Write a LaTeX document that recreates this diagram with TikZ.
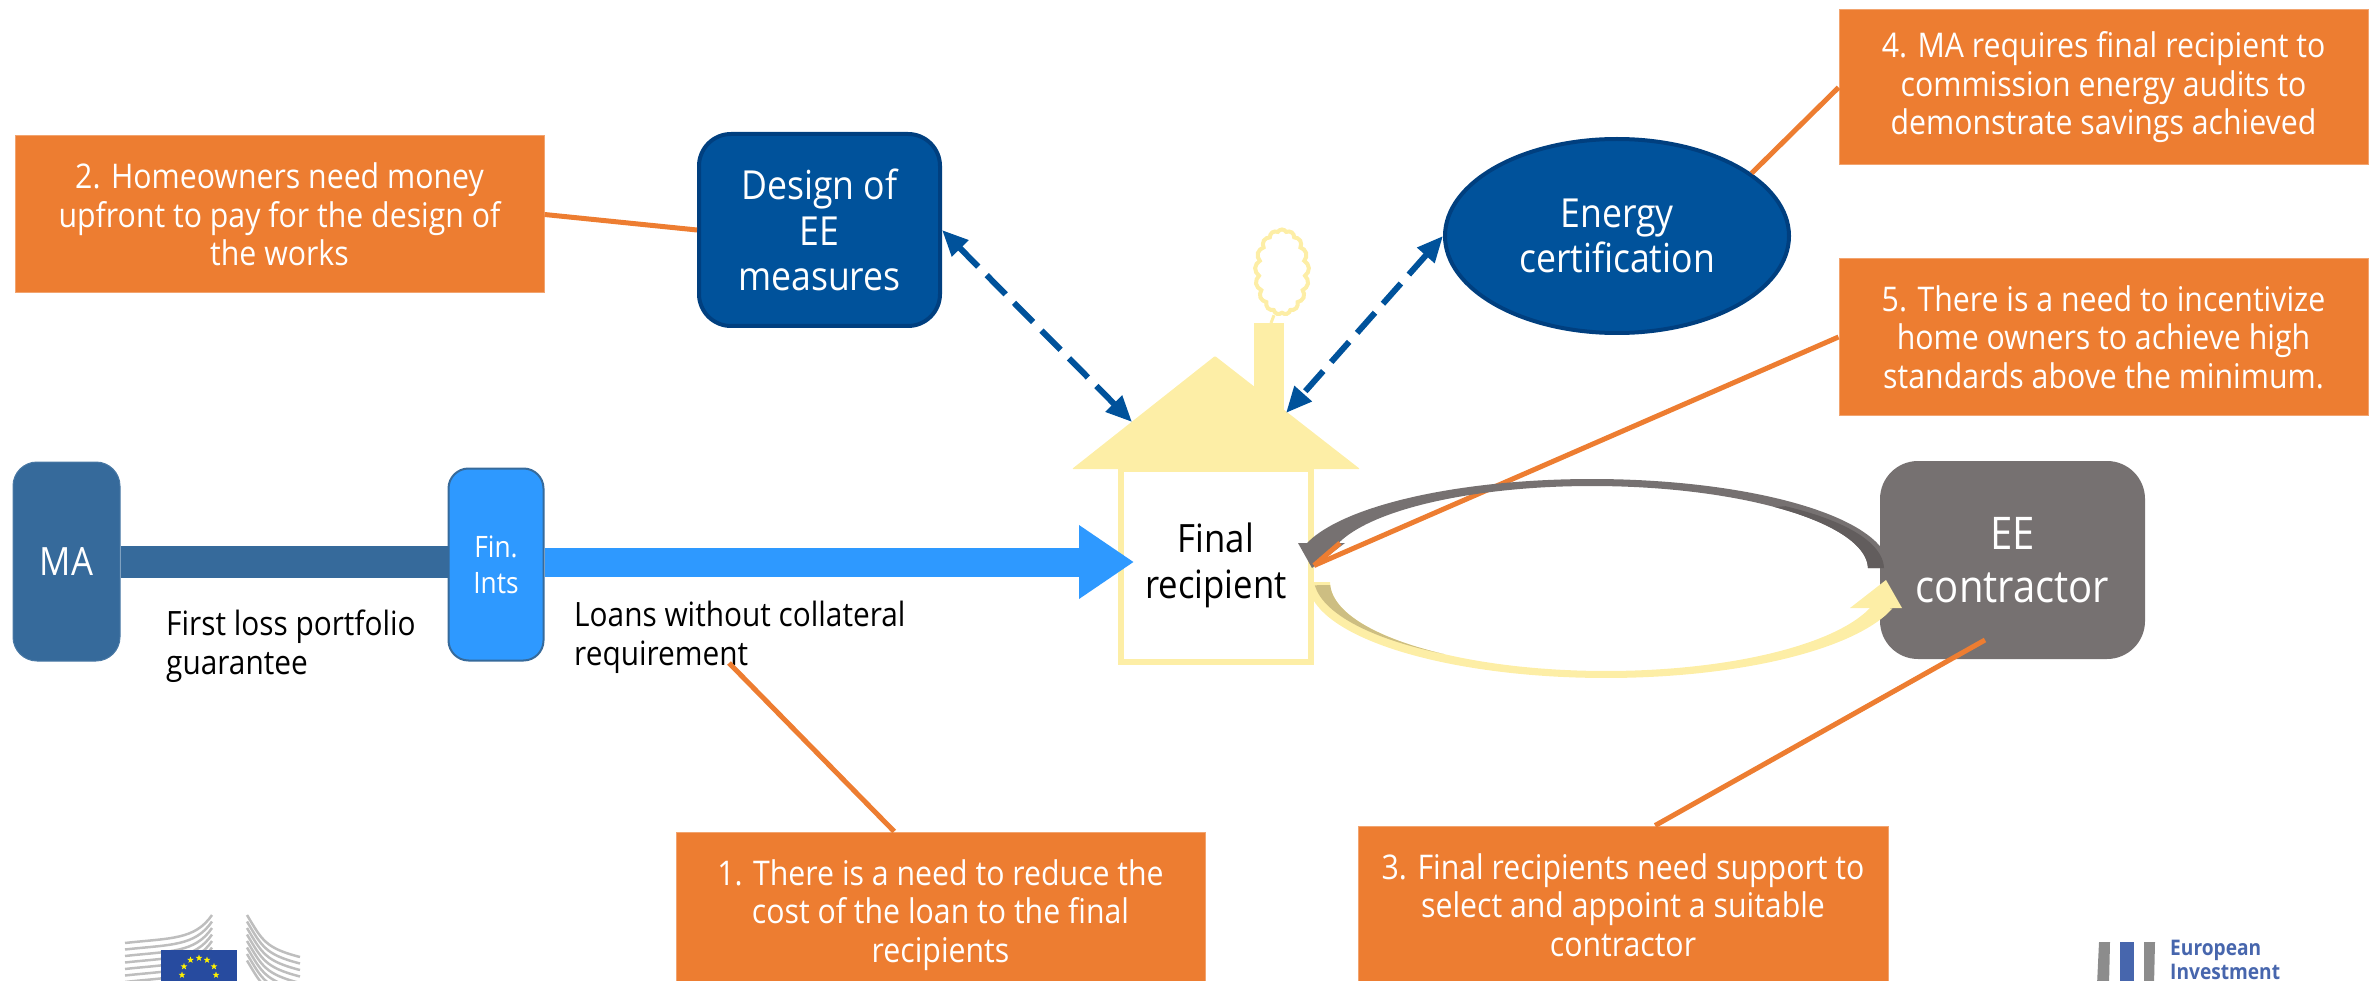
\documentclass[tikz,border=0pt]{standalone}
\usepackage{fontspec}
\setmainfont[FakeStretch=0.89]{Open Sans}
\usetikzlibrary{shapes.geometric,shapes.symbols,arrows.meta,calc}
\definecolor{orangebox}{HTML}{ED7D31}
\definecolor{darkblue}{HTML}{00529B}
\definecolor{darkedge}{HTML}{003F7F}
\definecolor{maBlue}{HTML}{366A9B}
\definecolor{finBlue}{HTML}{2E99FF}
\definecolor{eeGray}{HTML}{767171}
\definecolor{eeDark}{HTML}{625D5D}
\definecolor{houseY}{HTML}{FDEEA6}
\definecolor{tanY}{HTML}{CDBE82}
\definecolor{euBlue}{HTML}{274B9F}
\definecolor{logoGray}{HTML}{BEBEBE}
\tikzset{
  x=1pt,y=-1pt,
  callout/.style={fill=orangebox,draw=orangebox!70!white,line width=1pt,text=white,align=center,inner sep=0pt,
    minimum width=529pt,font=\fontsize{34}{38.5}\selectfont},
  leader/.style={draw=orangebox,line width=5pt},
  bluebox/.style={fill=darkblue,draw=darkedge,line width=4pt,text=white,align=center,inner sep=0pt,
    font=\fontsize{40}{45.5}\selectfont},
  dashlink/.style={draw=darkblue,line width=6pt,dash pattern=on 27pt off 12pt,
    {Triangle[length=26pt,width=22pt]}-{Triangle[length=26pt,width=22pt]}},
  caption/.style={align=left,anchor=north west,inner sep=0pt,font=\fontsize{33.5}{38.5}\selectfont},
  eustar/.style={star,star points=5,star point ratio=2.4,fill=yellow,draw=none,inner sep=0pt,minimum size=7pt},
}
\begin{document}
\begin{tikzpicture}
\useasboundingbox (0,0) rectangle (2377,981);
% callouts
\node[callout,minimum height=157pt] (box2) at (279.5,214.5) {2. Homeowners need money\\upfront to pay for the design of\\the works};
\node[callout,minimum height=155pt] (box4) at (2103.5,87.5) {4. MA requires final recipient to\\commission energy audits to\\demonstrate savings achieved};
\node[callout,minimum height=156pt] (box5) at (2103.5,337) {5. There is a need to incentivize\\home owners to achieve high\\standards above the minimum.};
\node[callout,minimum height=166pt] (box1) at (940.5,915) {1. There is a need to reduce the\\cost of the loan to the final\\recipients};
\node[callout,minimum height=158pt,minimum width=530pt] (box3) at (1623,905) {3. Final recipients need support to\\select and appoint a suitable\\contractor};
% blue nodes
\node[bluebox,rounded corners=32pt,minimum width=241pt,minimum height=192pt] (design) at (819.5,230) {Design of\\EE\\measures};
\node[bluebox,ellipse,minimum width=344pt,minimum height=194pt] (energy) at (1617,236) {Energy\\certification};
% house
\fill[houseY] (1254,323) rectangle (1284,470);
\fill[houseY,rounded corners=1pt] (1215,356) -- (1360,469) -- (1072,469) -- cycle;
\node[draw=houseY,line width=6pt,inner sep=0pt,minimum width=190pt,minimum height=193pt,align=center,
  font=\fontsize{39}{46}\selectfont] (final) at (1216,565.5) {Final\\recipient};
\node[cloud,cloud puffs=17,cloud puff arc=120,aspect=0.62,draw=houseY,line width=4pt,minimum width=54pt,minimum height=85pt,inner sep=0pt] (smoke) at (1282,272) {};
\coordinate (chimney) at (1271,323);
\draw[houseY,line width=3pt] (smoke.south) ++(-8,0) -- (chimney);
\coordinate (roofL) at (1132,422);
\coordinate (roofR) at (1286,413);
% left chain
\node[fill=maBlue,draw=maBlue!90!white,line width=1pt,rounded corners=24pt,minimum width=107pt,minimum height=199pt,inner sep=0pt,text=white,font=\fontsize{39}{42}\selectfont] (ma) at (66.5,561.5) {MA};
\node[fill=finBlue,draw=maBlue,line width=2pt,rounded corners=20pt,minimum width=95pt,minimum height=192pt,inner sep=0pt,text=white,align=center,font=\fontsize{29.5}{36}\selectfont] (fin) at (496,564.5) {Fin.\\Ints};
\draw[maBlue,line width=32pt] (ma.east) -- (ma.east -| fin.west);
\coordinate (blueTip) at (1134,562);
\draw[finBlue,line width=29pt,-{Triangle[length=55pt,width=70pt]}] (fin.east |- blueTip) -- (blueTip);
\node[caption] (cap1) at (166,610) {First loss portfolio\\guarantee};
\node[caption] (cap2) at (574,601) {Loans without collateral\\requirement};
\coordinate (capEnd) at (729,663);
% leaders under the arcs
\draw[leader] (box2.east) -- (design.west);
\draw[leader] (box4.west) -- (energy.25);
\draw[leader] (box1.119) -- (capEnd);
% EE
\node[fill=eeGray,rounded corners=38pt,minimum width=265pt,minimum height=198pt,inner sep=0pt,text=white,align=center,font=\fontsize{45}{53}\selectfont] (ee) at (2012.5,560) {EE\\contractor};
\coordinate (eeIn) at (1985,640);
\draw[leader] (box3.68) -- (eeIn);
% grey arc
\draw[leader] (box5.west) -- (final.east);
\fill[eeGray] plot[smooth,domain=0:164,samples=40,variable=\t] ({1592+297*cos(\t)},{568-89*sin(\t)})
  -- plot[smooth,domain=164:0,samples=40,variable=\t] ({1592+(276-10*\t/164)*cos(\t)},{568-82*sin(\t)}) -- cycle;
\fill[eeDark] plot[smooth,domain=0:48,samples=16,variable=\t] ({1592+292*(1-0.01*\t/48)*cos(\t)},{568-87.5*(1-0.05*\t/48)*sin(\t)})
  -- plot[smooth,domain=48:0,samples=16,variable=\t] ({1592+(276-10*\t/164)*cos(\t)},{568-82*sin(\t)}) -- cycle;
\fill[eeGray] (1298,543) -- (1345,543) -- (1312,568) -- cycle;
\draw[orangebox,line width=5pt] (1340,543) -- (final.east);
% yellow arc
\fill[houseY] plot[smooth,domain=0:164,samples=40,variable=\t] ({1606-298*cos(\t)},{582+96*sin(\t)})
  -- plot[smooth,domain=164:0,samples=40,variable=\t] ({1606-276*cos(\t)},{582+89*sin(\t)}) -- cycle;
\fill[houseY] (1886,580) -- (1902,608) -- (1850,608) -- cycle;
\fill[tanY] plot[smooth,domain=2:54,samples=16,variable=\t] ({1606-(276+16*(1-\t/54))*cos(\t)},{582+(89+5*(1-\t/54))*sin(\t)})
  -- plot[smooth,domain=54:2,samples=16,variable=\t] ({1606-276*cos(\t)},{582+89*sin(\t)}) -- cycle;
% dashed links
\draw[dashlink] (design.east) -- (roofL);
\draw[dashlink] (energy.west) -- (roofR);
% EC logo
\foreach \i in {0,...,7}{
  \draw[logoGray,line width=2.5pt] (125,{943+6.5*\i}) .. controls (170,{938+6.5*\i}) and (195,{940+6.5*\i}) .. (212,{915+6.5*\i});
  \draw[logoGray,line width=2.5pt] (247,{915+6.5*\i}) .. controls (262,{940+6.5*\i}) and (265,{948+6.5*\i}) .. (300,{957+6.5*\i});
}
\fill[euBlue] (161,950) rectangle (237,985);
\foreach \n/\a/\b in {1/199/958,2/190.5/960,3/207/960,4/184/966.5,5/214/966.5,6/182/975,7/216/975}{
  \node[eustar] (st\n) at (\a,\b) {};
}
% EIB logo
\fill[gray!90] (2099,942) -- (2110,942) -- (2109,985) -- (2097,985) -- cycle;
\fill[euBlue!85!white] (2120,942) -- (2134,942) -- (2134,985) -- (2120,985) -- cycle;
\fill[gray!90] (2144,942) -- (2155,942) -- (2154,985) -- (2144,985) -- cycle;
\node[anchor=west,inner sep=0pt,text=euBlue!85!white,font=\fontsize{21.5}{22}\selectfont\bfseries] (eib1) at (2170,950) {European};
\node[anchor=west,inner sep=0pt,text=euBlue!85!white,font=\fontsize{21.5}{22}\selectfont\bfseries] (eib2) at (2170,972) {Investment};
\end{tikzpicture}
\end{document}
